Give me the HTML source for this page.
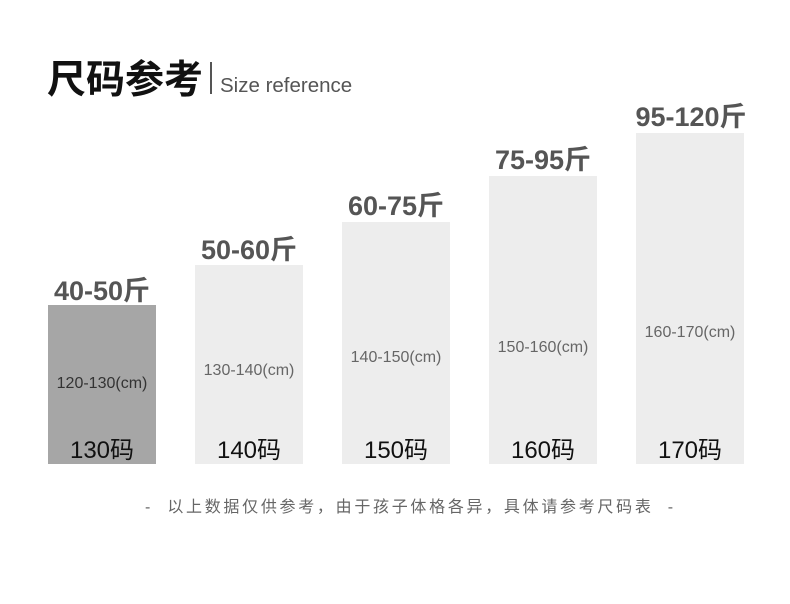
<!DOCTYPE html>
<html><head><meta charset="utf-8"><style>
body{margin:0;width:790px;height:604px;background:#fff;position:relative;overflow:hidden;font-family:"Liberation Sans","Noto Sans CJK SC",sans-serif}
.a{position:absolute}
.bar{position:absolute;bottom:140px;width:108px;background:#ededed}
.w{position:absolute;width:160px;text-align:center;font-weight:bold;font-size:27px;color:#555;white-space:nowrap;line-height:30px}
.cm{position:absolute;width:108px;text-align:center;font-size:16px;color:#666;line-height:18px}
.c{position:absolute;width:108px;text-align:center;font-size:24px;color:#111;line-height:26px;top:438px}
</style></head><body>
<div class="a" style="left:47px;top:51px;font-size:39px;font-weight:bold;color:#111;line-height:52px;font-family:'Noto Sans CJK SC',sans-serif">尺码参考</div>
<div class="a" style="left:210px;top:62px;width:2px;height:32px;background:#555"></div>
<div class="a" style="left:220px;top:73px;font-size:20.5px;color:#555;line-height:26px">Size reference</div>

<div class="bar" style="left:48px;top:305px;background:#a6a6a6"></div>
<div class="bar" style="left:195px;top:265px"></div>
<div class="bar" style="left:342px;top:222px"></div>
<div class="bar" style="left:489px;top:176px"></div>
<div class="bar" style="left:636px;top:133px"></div>

<div class="w" style="left:22px;top:276px">40-50斤</div>
<div class="w" style="left:169px;top:235px">50-60斤</div>
<div class="w" style="left:316px;top:191px">60-75斤</div>
<div class="w" style="left:463px;top:145px">75-95斤</div>
<div class="w" style="left:611px;top:102px">95-120斤</div>

<div class="cm" style="left:48px;top:375px;color:#333">120-130(cm)</div>
<div class="cm" style="left:195px;top:362px">130-140(cm)</div>
<div class="cm" style="left:342px;top:349px">140-150(cm)</div>
<div class="cm" style="left:489px;top:339px">150-160(cm)</div>
<div class="cm" style="left:636px;top:324px">160-170(cm)</div>

<div class="c" style="left:48px">130码</div>
<div class="c" style="left:195px">140码</div>
<div class="c" style="left:342px">150码</div>
<div class="c" style="left:489px">160码</div>
<div class="c" style="left:636px">170码</div>

<div class="a" style="left:145px;top:497px;font-size:16px;color:#666;line-height:22px;white-space:nowrap;letter-spacing:2.7px">-&nbsp;&nbsp;以上数据仅供参考，由于孩子体格各异，具体请参考尺码表&nbsp;&nbsp;-</div>
</body></html>
